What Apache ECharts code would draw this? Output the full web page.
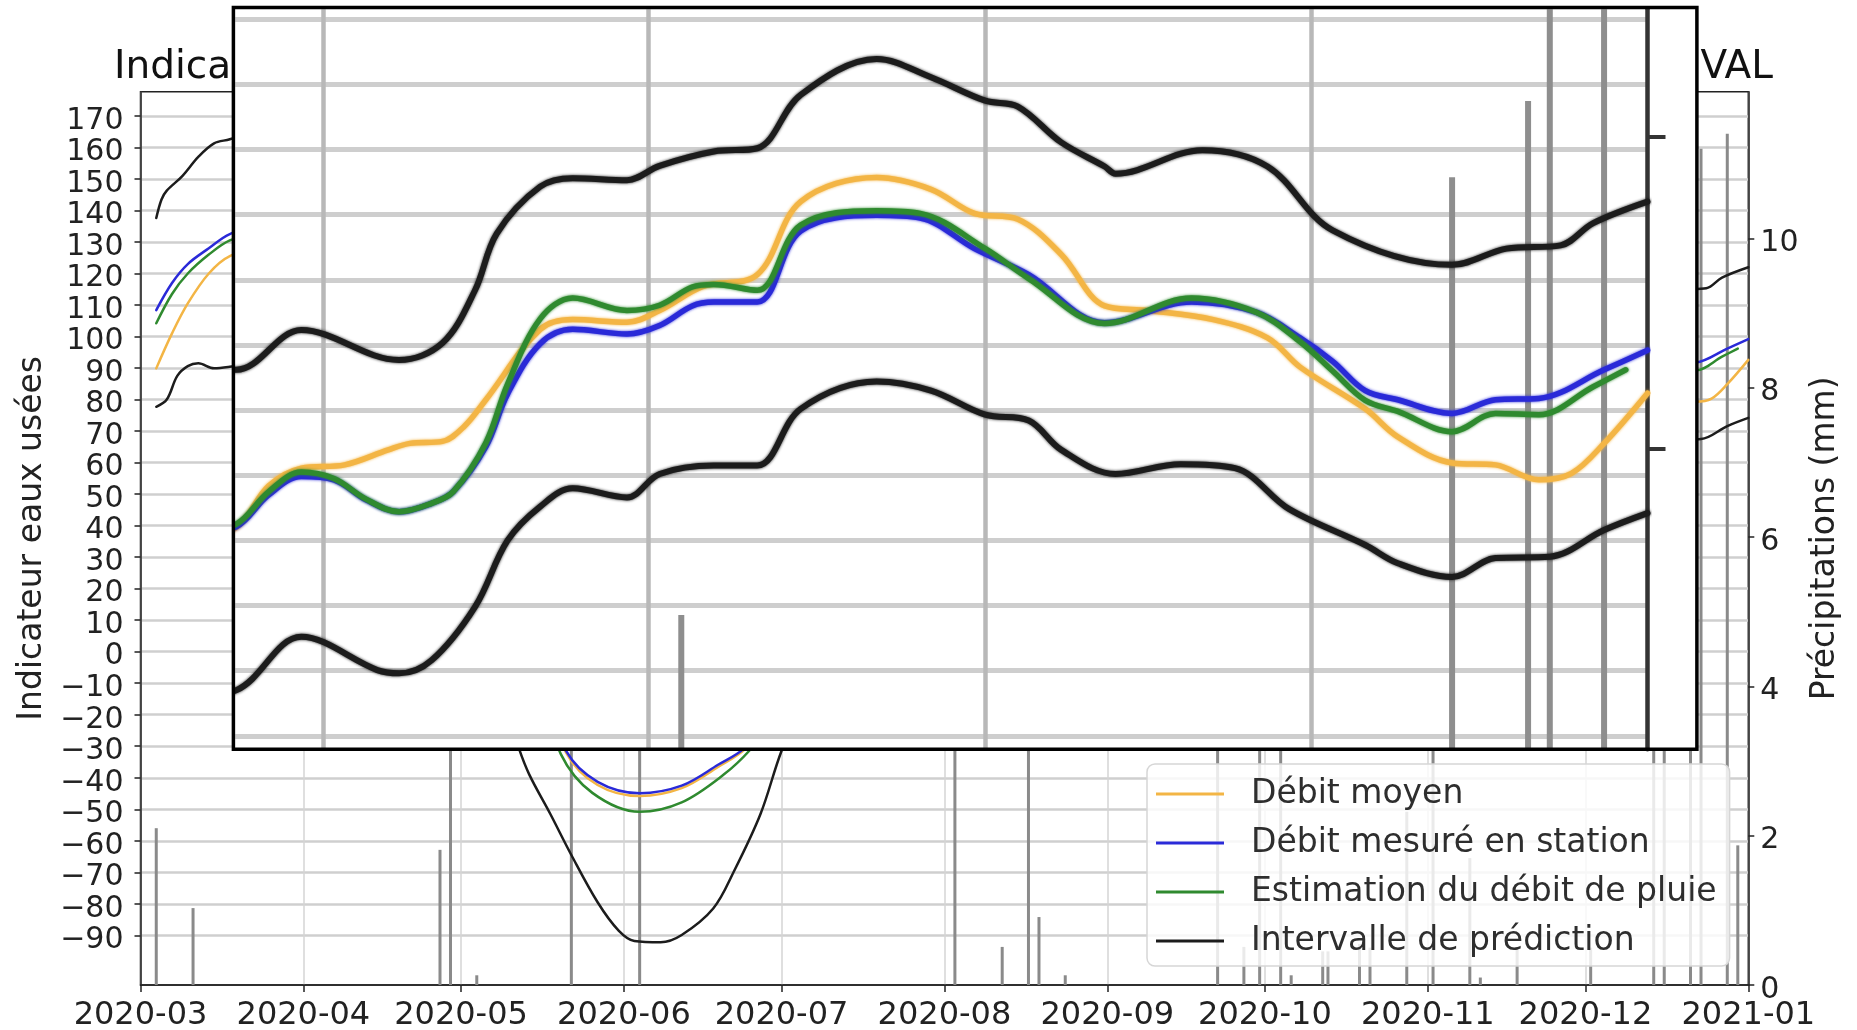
<!DOCTYPE html>
<html>
<head>
<meta charset="utf-8">
<script src="https://cdn.jsdelivr.net/npm/echarts@6/dist/echarts.min.js"></script>
<style>
  html, body { margin: 0; padding: 0; background: #fff; }
  #chart { width: 1857px; height: 1030px; }
</style>
</head>
<body>
<div id="chart"></div>
<script>
// ---- Data ----------------------------------------------------------------
const monthTicks = ['2020-03-01', '2020-04-01', '2020-05-01', '2020-06-01', '2020-07-01',
  '2020-08-01', '2020-09-01', '2020-10-01', '2020-11-01', '2020-12-01', '2021-01-01'];
const leftTicks = [-90, -80, -70, -60, -50, -40, -30, -20, -10, 0, 10, 20, 30, 40, 50, 60,
  70, 80, 90, 100, 110, 120, 130, 140, 150, 160, 170];
const rightTicks = [0, 2, 4, 6, 8, 10];
const zoomMonthTicks = ['2020-09-01', '2020-10-01', '2020-11-01', '2020-12-01'];
const zoomLeftTicks = [40, 50, 60, 70, 80, 90, 100, 110, 120, 130, 140, 150];
const zoomRightTicks = [8, 10];

const debitMoyen = [
  ['2020-03-04', 89.9], ['2020-03-07', 101], ['2020-03-10', 110.5], ['2020-03-14', 120], ['2020-03-18', 125.5],
  ['2020-03-28', 131], ['2020-04-08', 128], ['2020-04-20', 112], ['2020-05-01', 80], ['2020-05-10', 28], ['2020-05-16', -8],
  ['2020-05-21', -32], ['2020-05-27', -42.3], ['2020-06-04', -45.8], ['2020-06-12', -43.3], ['2020-06-19', -36.5], ['2020-06-24', -31],
  ['2020-07-03', -15], ['2020-07-15', 15], ['2020-07-28', 45], ['2020-08-10', 63], ['2020-08-20', 70],
  ['2020-08-24', 72], ['2020-08-27', 78.4], ['2020-08-30', 81.1], ['2020-09-03', 81.6], ['2020-09-07', 83.9],
  ['2020-09-09', 84.9], ['2020-09-12', 85.2], ['2020-09-14', 87.5], ['2020-09-16', 91.6], ['2020-09-21', 102.4],
  ['2020-09-24', 103.9], ['2020-09-29', 103.5], ['2020-10-02', 105.3], ['2020-10-06', 109], ['2020-10-11', 110.8],
  ['2020-10-15', 122], ['2020-10-22', 125.7], ['2020-10-27', 123.9], ['2020-10-31', 120.2], ['2020-11-04', 119.3],
  ['2020-11-08', 113.9], ['2020-11-12', 106], ['2020-11-16', 105.3], ['2020-11-22', 103.9], ['2020-11-27', 101.1],
  ['2020-11-30', 96.6], ['2020-12-06', 90.2], ['2020-12-09', 85.9], ['2020-12-14', 81.9], ['2020-12-18', 81.6],
  ['2020-12-22', 79.3], ['2020-12-25', 80.3], ['2020-12-28', 84.9], ['2021-01-01', 92.6]
];

const debitMesure = [
  ['2020-03-04', 108.4], ['2020-03-07', 117], ['2020-03-10', 123], ['2020-03-14', 128], ['2020-03-18', 132.5],
  ['2020-03-28', 138], ['2020-04-08', 134], ['2020-04-20', 118], ['2020-05-01', 85], ['2020-05-10', 30], ['2020-05-16', -8],
  ['2020-05-21', -31.5], ['2020-05-27', -41.3], ['2020-06-04', -44.9], ['2020-06-12', -42.5], ['2020-06-19', -35.8], ['2020-06-24', -30.5],
  ['2020-07-03', -14], ['2020-07-15', 15], ['2020-07-28', 45], ['2020-08-10', 64], ['2020-08-20', 71],
  ['2020-08-24', 72.1], ['2020-08-27', 77], ['2020-08-30', 79.8], ['2020-09-02', 79.3], ['2020-09-05', 76.2],
  ['2020-09-08', 74.4], ['2020-09-11', 75.7], ['2020-09-13', 77.5], ['2020-09-16', 84.4], ['2020-09-18', 92.5],
  ['2020-09-21', 100.2], ['2020-09-24', 102.4], ['2020-09-29', 101.7], ['2020-10-02', 103], ['2020-10-05', 106],
  ['2020-10-07', 106.6], ['2020-10-11', 106.6], ['2020-10-15', 117.5], ['2020-10-22', 119.9], ['2020-10-26', 119.5],
  ['2020-10-31', 114.8], ['2020-11-05', 110.8], ['2020-11-12', 103.4], ['2020-11-20', 106.6], ['2020-11-26', 105],
  ['2020-11-30', 101.1], ['2020-12-03', 97.5], ['2020-12-06', 93], ['2020-12-09', 91.6], ['2020-12-14', 89.5],
  ['2020-12-18', 91.6], ['2020-12-22', 91.8], ['2020-12-28', 96.2], ['2021-01-01', 99.2]
];

const debitPluie = [
  ['2020-03-04', 104.2], ['2020-03-07', 113.5], ['2020-03-10', 120], ['2020-03-14', 126], ['2020-03-18', 130.5],
  ['2020-03-28', 136], ['2020-04-08', 132], ['2020-04-20', 115], ['2020-05-01', 80], ['2020-05-10', 25], ['2020-05-16', -10],
  ['2020-05-20', -32.5], ['2020-05-26', -44.8], ['2020-06-04', -50.8], ['2020-06-12', -47.8], ['2020-06-20', -39], ['2020-06-25', -31.2],
  ['2020-07-04', -13], ['2020-07-15', 14], ['2020-07-28', 45], ['2020-08-10', 64], ['2020-08-20', 71],
  ['2020-08-24', 72.5], ['2020-08-27', 77.5], ['2020-08-30', 80.5], ['2020-09-02', 79.5], ['2020-09-05', 76.3],
  ['2020-09-08', 74.4], ['2020-09-11', 75.7], ['2020-09-13', 77.5], ['2020-09-16', 85], ['2020-09-18', 94],
  ['2020-09-21', 104], ['2020-09-24', 107.2], ['2020-09-29', 105.3], ['2020-10-02', 106.1], ['2020-10-05', 108.9],
  ['2020-10-07', 109.3], ['2020-10-11', 108.4], ['2020-10-15', 118.4], ['2020-10-22', 120.6], ['2020-10-26', 120.2],
  ['2020-11-01', 114.8], ['2020-11-05', 110.2], ['2020-11-12', 103.3], ['2020-11-20', 107.2], ['2020-11-26', 105],
  ['2020-11-30', 100.5], ['2020-12-03', 96], ['2020-12-06', 91.5], ['2020-12-09', 89.8], ['2020-12-14', 86.7],
  ['2020-12-18', 89.5], ['2020-12-22', 89.3], ['2020-12-27', 93.6], ['2020-12-30', 96.2]
];

const intervalleHaut = [
  ['2020-03-04', 137.6], ['2020-03-05', 143.5], ['2020-03-06', 146.3], ['2020-03-09', 151], ['2020-03-12', 157],
  ['2020-03-15', 161.3], ['2020-03-18', 162.6],
  ['2020-03-28', 168], ['2020-04-10', 163], ['2020-04-22', 145], ['2020-05-03', 110], ['2020-05-15', 60],
  ['2020-05-25', 20], ['2020-06-05', 3], ['2020-06-15', 8], ['2020-06-25', 25], ['2020-07-08', 55],
  ['2020-07-22', 80], ['2020-08-05', 92], ['2020-08-16', 97],
  ['2020-08-24', 96.2], ['2020-08-30', 102.3], ['2020-09-08', 97.7], ['2020-09-12', 100.3], ['2020-09-15', 108.4],
  ['2020-09-17', 117.1], ['2020-09-21', 124.3], ['2020-09-24', 125.6], ['2020-09-29', 125.3], ['2020-10-02', 127.5],
  ['2020-10-07', 129.7], ['2020-10-11', 130.2], ['2020-10-15', 138.4], ['2020-10-22', 143.9], ['2020-10-27', 141.1],
  ['2020-11-01', 137.5], ['2020-11-04', 136.6], ['2020-11-08', 131.1], ['2020-11-12', 127.4], ['2020-11-13', 126.3],
  ['2020-11-21', 129.9], ['2020-11-27', 127.4], ['2020-12-03', 117.6], ['2020-12-14', 112.3], ['2020-12-19', 114.8],
  ['2020-12-24', 115.3], ['2020-12-27', 118.7], ['2021-01-01', 122]
];

const intervalleBas = [
  ['2020-03-04', 77.7], ['2020-03-06', 80], ['2020-03-08', 87.5], ['2020-03-10', 90.6], ['2020-03-12', 91.5],
  ['2020-03-15', 89.9], ['2020-03-18', 90.4],
  ['2020-03-28', 93], ['2020-04-10', 85], ['2020-04-22', 55], ['2020-05-03', 10], ['2020-05-09', -15],
  ['2020-05-12', -30.6], ['2020-05-14', -39], ['2020-05-18', -51.5], ['2020-05-22', -64.5], ['2020-05-27', -79.5],
  ['2020-05-31', -88.5], ['2020-06-03', -91.8], ['2020-06-08', -92.2], ['2020-06-12', -89.9], ['2020-06-18', -81.5],
  ['2020-06-22', -69.5], ['2020-06-27', -51.5], ['2020-07-01', -31.5],
  ['2020-07-07', -8], ['2020-07-18', 18], ['2020-08-01', 36], ['2020-08-14', 44],
  ['2020-08-24', 47], ['2020-08-30', 55.2], ['2020-09-06', 50.1], ['2020-09-08', 49.6], ['2020-09-11', 51.6],
  ['2020-09-15', 59.8], ['2020-09-18', 70], ['2020-09-21', 75.2], ['2020-09-24', 78], ['2020-09-29', 76.6],
  ['2020-10-02', 80.2], ['2020-10-07', 81.5], ['2020-10-11', 81.5], ['2020-10-15', 90.2], ['2020-10-22', 94.4],
  ['2020-10-27', 93], ['2020-11-01', 89.3], ['2020-11-05', 88.4], ['2020-11-08', 83.9], ['2020-11-13', 80.2],
  ['2020-11-19', 81.7], ['2020-11-24', 81.1], ['2020-11-29', 74.8], ['2020-12-06', 69.3], ['2020-12-09', 66.5],
  ['2020-12-14', 64.4], ['2020-12-18', 67.3], ['2020-12-23', 67.5], ['2020-12-28', 71.6], ['2021-01-01', 74.2]
];

// daily rainfall, mm
const precipitations = [
  ['2020-03-04', 2.1], ['2020-03-11', 1.03], ['2020-04-27', 1.81], ['2020-04-29', 4.6], ['2020-05-04', 0.13],
  ['2020-05-22', 4.1], ['2020-06-04', 4.9], ['2020-08-03', 3.8], ['2020-08-12', 0.51], ['2020-08-17', 4.4],
  ['2020-08-19', 0.91], ['2020-08-24', 0.13], ['2020-09-22', 4.0], ['2020-09-27', 0.51], ['2020-09-30', 3.6],
  ['2020-10-04', 6.93], ['2020-10-06', 0.13], ['2020-10-12', 0.45], ['2020-10-13', 0.45], ['2020-10-19', 0.55],
  ['2020-10-21', 0.5], ['2020-10-28', 2.32], ['2020-11-02', 3.5], ['2020-11-09', 1.7], ['2020-11-11', 0.1],
  ['2020-11-18', 0.5], ['2020-12-02', 0.5], ['2020-12-14', 9.74], ['2020-12-16', 4.5], ['2020-12-21', 10.23],
  ['2020-12-23', 11.2], ['2020-12-28', 11.4], ['2020-12-30', 1.87]
];

// ---- Chart ---------------------------------------------------------------
const FONT = 'DejaVu Sans';
const ts = s => echarts.number.parseDate(s).getTime();
const minus = v => (v < 0 ? '\u2212' + Math.abs(v) : String(v));
const ym = v => { const d = new Date(v); return d.getFullYear() + '-' + String(d.getMonth() + 1).padStart(2, '0'); };
const asPoints = rows => rows.map(([d, v]) => [ts(d), v]);
// tick text sits a little below its tick, as in the usual plotting style
const lowered = v => '{t|' + minus(v) + '}';
const tickRich = { t: { fontFamily: FONT, fontSize: 30, color: '#222', padding: [10, 0, 0, 0] } };

const monthTickValues = monthTicks.map(ts);
const zoomMonthValues = zoomMonthTicks.map(ts);

// enlarged window over the end of the year
const zoomStart = new Date(2020, 7, 23, 21, 50).getTime();
const zoomEnd = ts('2021-01-01');
const zoomBox = { x: 233.4, y: 7.5, width: 1463.5, height: 741.8 };

const COLORS = { moyen: '#f3b545', mesure: '#2a2ad8', pluie: '#2f8a2f', intervalle: '#1c1c1c' };

function lineSeries(name, rows, color, grid, width) {
  const enlarged = grid !== 0;
  return {
    type: 'line', name, data: asPoints(rows),
    xAxisIndex: enlarged ? 1 : 0,
    yAxisIndex: enlarged ? 2 : 0,
    showSymbol: false, smooth: 0.35, clip: true, silent: true,
    z: enlarged ? 26 : 3,
    lineStyle: enlarged
      ? { color, width, cap: 'round', join: 'round', shadowBlur: 3, shadowColor: color }
      : { color, width, cap: 'round', join: 'round' },
    itemStyle: { color }
  };
}

const chart = echarts.init(document.getElementById('chart'), null, { renderer: 'canvas' });

chart.setOption({
  animation: false,
  backgroundColor: '#fff',
  title: [
    { text: 'Indicateur eaux usées et précipitations, station', left: 114, top: 48, padding: 0, z: 1,
      textStyle: { fontFamily: FONT, fontSize: 39, fontWeight: 'normal', color: '#111' } },
    { text: 'd\u2019épuration de BONNEVAL', right: 84, top: 48, padding: 0, z: 1,
      textStyle: { fontFamily: FONT, fontSize: 39, fontWeight: 'normal', color: '#111' } }
  ],
  legend: {
    data: ['Débit moyen', 'Débit mesuré en station', 'Estimation du débit de pluie', 'Intervalle de prédiction'],
    orient: 'vertical', left: 1147, top: 764,
    icon: 'rect', itemWidth: 68, itemHeight: 3, itemGap: 13,
    padding: [12, 13, 7, 9],
    backgroundColor: 'rgba(255,255,255,0.82)', borderColor: '#d6d6d6', borderWidth: 1.5, borderRadius: 8,
    selectedMode: false,
    textStyle: { fontFamily: FONT, fontSize: 33, color: '#2e2e2e', lineHeight: 36, padding: [0, 0, 0, 22] }
  },
  grid: [
    { left: 140.5, top: 91.7, width: 1607.8, height: 893.3, outerBoundsMode: 'none',
      show: true, borderColor: '#222', borderWidth: 1.5, backgroundColor: 'transparent', z: 0 },
    { left: 235.2, top: 9.3, width: 1412.3, height: 740, outerBoundsMode: 'none', show: false, z: 20 }
  ],
  xAxis: [
    {
      type: 'value', gridIndex: 0, min: ts('2020-03-01'), max: ts('2021-01-01'), z: 1,
      axisLine: { show: true, onZero: false, lineStyle: { color: '#222', width: 1.5 } },
      axisTick: { show: true, customValues: monthTickValues, length: 7, lineStyle: { color: '#222', width: 1.5 } },
      axisLabel: { customValues: monthTickValues, formatter: ym, fontFamily: FONT, fontSize: 32, color: '#222',
        margin: 15, showMinLabel: true, showMaxLabel: true, hideOverlap: false },
      splitLine: { show: true, lineStyle: { color: '#d4d4d4', width: 1.5 } }
    },
    {
      type: 'value', gridIndex: 1, min: zoomStart, max: zoomEnd, z: 20,
      axisLine: { show: false },
      axisTick: { show: false, customValues: zoomMonthValues },
      axisLabel: { show: false, customValues: zoomMonthValues },
      splitLine: { show: true, lineStyle: { color: '#b8b8b8', width: 4.5 } }
    }
  ],
  yAxis: [
    {
      type: 'value', gridIndex: 0, position: 'left', min: -105.76, max: 177.69, z: 1,
      name: 'Indicateur eaux usées', nameLocation: 'middle', nameRotate: 90, nameGap: 91,
      nameTextStyle: { fontFamily: FONT, fontSize: 33, color: '#222' },
      axisLine: { show: true, onZero: false, lineStyle: { color: '#222', width: 1.5 } },
      axisTick: { show: true, customValues: leftTicks, length: 6, lineStyle: { color: '#222', width: 1.5 } },
      axisLabel: { customValues: leftTicks, formatter: lowered, rich: tickRich, margin: 17 },
      splitLine: { show: true, lineStyle: { color: '#cfcfcf', width: 2.5 } }
    },
    {
      type: 'value', gridIndex: 0, position: 'right', min: 0, max: 11.963, z: 1,
      name: 'Précipitations (mm)', nameLocation: 'middle', nameRotate: 90, nameGap: 60,
      nameTextStyle: { fontFamily: FONT, fontSize: 33, color: '#222' },
      axisLine: { show: true, onZero: false, lineStyle: { color: '#222', width: 1.5 } },
      axisTick: { show: true, customValues: rightTicks, length: 6, lineStyle: { color: '#222', width: 1.5 } },
      axisLabel: { customValues: rightTicks, formatter: lowered, rich: tickRich, margin: 12 },
      splitLine: { show: false }
    },
    {
      type: 'value', gridIndex: 1, position: 'left', min: 37.94, max: 151.53, z: 20,
      axisLine: { show: false },
      axisTick: { show: false, customValues: zoomLeftTicks },
      axisLabel: { show: false, customValues: zoomLeftTicks },
      splitLine: { show: true, lineStyle: { color: '#cecece', width: 5 } }
    },
    {
      type: 'value', gridIndex: 1, position: 'right', min: 6.068, max: 10.818, z: 21,
      axisLine: { show: true, onZero: false, lineStyle: { color: '#343434', width: 4.5 } },
      axisTick: { show: true, customValues: zoomRightTicks, length: 18, lineStyle: { color: '#343434', width: 4 } },
      axisLabel: { show: false },
      splitLine: { show: false }
    }
  ],
  graphic: [
    { type: 'rect', z: 10, silent: true, shape: zoomBox, style: { fill: '#fff' } },
    { type: 'rect', z: 100, silent: true, shape: zoomBox, style: { fill: null, stroke: '#000', lineWidth: 3.5 } }
  ],
  series: [
    { type: 'bar', name: 'Précipitations', data: asPoints(precipitations), xAxisIndex: 0, yAxisIndex: 1,
      barWidth: 3, clip: true, silent: true, z: 2, itemStyle: { color: '#8a8a8a' } },
    lineSeries('Débit moyen', debitMoyen, COLORS.moyen, 0, 2.5),
    lineSeries('Débit mesuré en station', debitMesure, COLORS.mesure, 0, 2.5),
    lineSeries('Estimation du débit de pluie', debitPluie, COLORS.pluie, 0, 2.5),
    lineSeries('Intervalle de prédiction', intervalleHaut, COLORS.intervalle, 0, 2.5),
    lineSeries('Intervalle de prédiction', intervalleBas, COLORS.intervalle, 0, 2.5),

    { type: 'bar', name: 'Précipitations', data: asPoints(precipitations), xAxisIndex: 1, yAxisIndex: 3,
      barWidth: 6, clip: true, silent: true, z: 25, itemStyle: { color: '#8e8e8e' } },
    lineSeries('Débit moyen', debitMoyen, COLORS.moyen, 1, 5.5),
    lineSeries('Débit mesuré en station', debitMesure, COLORS.mesure, 1, 5.5),
    lineSeries('Estimation du débit de pluie', debitPluie, COLORS.pluie, 1, 5.5),
    lineSeries('Intervalle de prédiction', intervalleHaut, COLORS.intervalle, 1, 6),
    lineSeries('Intervalle de prédiction', intervalleBas, COLORS.intervalle, 1, 6)
  ]
});
</script>
</body>
</html>
